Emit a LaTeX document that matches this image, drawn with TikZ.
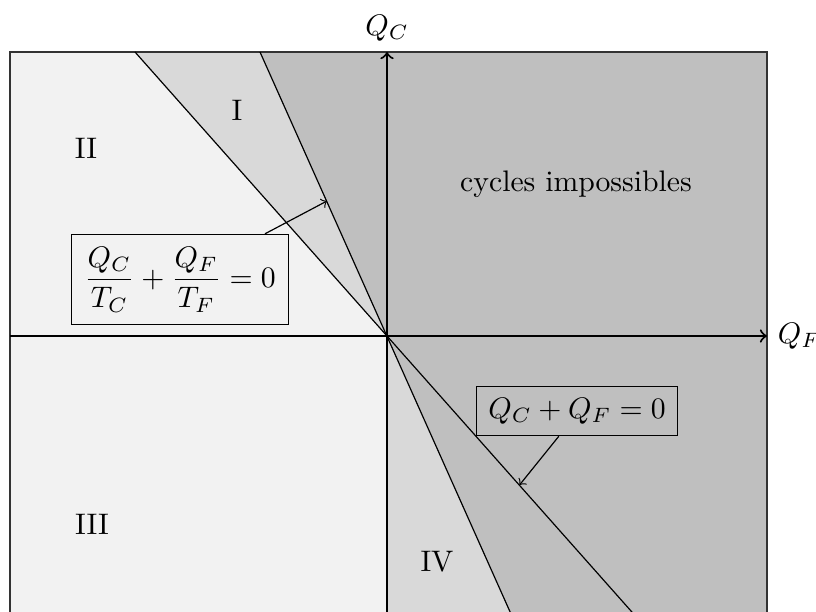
\documentclass[tikz,border=0pt]{standalone}
\usetikzlibrary{calc}
\begin{document}
\begin{tikzpicture}[x=0.3367pt,y=-0.3367pt,
  thinline/.style={black, line width=0.4pt},
  axis/.style={->, line width=0.7pt},
  eqbox/.style={draw, line width=0.4pt, inner sep=4.2pt},
  lightfill/.style={fill=black!5},
  midfill/.style={fill=black!15},
  darkfill/.style={fill=black!25}]
\clip (0,0) rectangle (816,612);
\coordinate (O) at (387,336);
\coordinate (Atop) at (260,52);
\coordinate (Abot) at (513.7,620);
\coordinate (Btop) at (135,52);
\coordinate (Bbot) at (639,620);
\coordinate (TL) at (10,52);
\coordinate (TR) at (767,52);
\coordinate (BL) at (10,620);
\coordinate (BR) at (767,620);
\coordinate (Bax) at (387,620);
% fills
\path[lightfill] (TL) rectangle (BR);
\path[midfill] (O) -- (Btop) -- (Atop) -- cycle;
\path[midfill] (O) -- (Bax) -- (Abot) -- cycle;
\path[darkfill] (Atop) -- (TR) -- (BR) -- (Abot) -- cycle;
% frame
\draw[thinline, black!80] (BL) -- (TL) -- (TR) -- (BR);
% lines through origin
\draw[thinline] (Btop) -- (Bbot);
\draw[thinline] (Atop) -- (Abot);
% axes
\coordinate (Lax) at (10,336);
\coordinate (Rax) at (767,336);
\draw[axis] (Lax) -- (Rax) node[right] (qf) {$Q_F$};
\draw[axis] (Bax) -- (TR -| O) node[above] (qc) {$Q_C$};
% region labels
\node (r1) at (237,110) {I};
\node (r2) at (86,148) {II};
\node (r3) at (92,524) {III};
\node (r4) at (437,562) {IV};
\node (imp) at (576,184) {cycles impossibles};
% equation boxes
\node[eqbox, lightfill] (b1) at (180,279.5) {$\displaystyle\frac{Q_C}{T_C}+\frac{Q_F}{T_F}=0$};
\node[eqbox, darkfill, inner sep=3.9pt] (b2) at (577,411) {$Q_C+Q_F=0$};
\coordinate (tA) at (327,201);
\coordinate (tB) at (519.5,485);
\draw[thinline, ->] ($(b1.north west)!0.89!(b1.north east)$) -- (tA);
\draw[thinline, ->] ($(b2.south west)!0.41!(b2.south east)$) -- (tB);
\end{tikzpicture}
\end{document}
